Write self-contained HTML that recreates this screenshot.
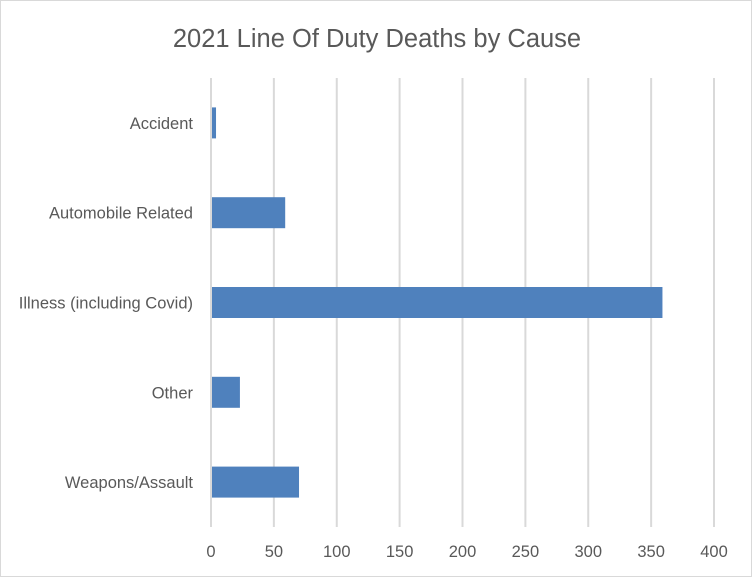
<!DOCTYPE html>
<html><head><meta charset="utf-8"><style>
body{margin:0;background:#fff;}
#wrap{width:752px;height:577px;position:relative;background:#fff;box-sizing:border-box;border:1px solid #d9d9d9;overflow:hidden;}
#chart{position:absolute;left:-1px;top:-1px;}
svg text{font-family:"Liberation Sans",Calibri,sans-serif;}
</style></head><body>
<div id="wrap">
<svg id="chart" width="752" height="577"></svg>
</div>
<script>
const categories=["Accident","Automobile Related","Illness (including Covid)","Other","Weapons/Assault"];
const values=[4,59,359,23,70];
const ticks=[0,50,100,150,200,250,300,350,400];
const NS="http://www.w3.org/2000/svg";
const svg=document.getElementById('chart');
const x0=211,x1=714,plotTop=78,plotBottom=527,maxV=400;
const xs=v=>x0+(x1-x0)*v/maxV;
const band=(plotBottom-plotTop)/categories.length;
const ys=i=>plotTop+band*i+band/2;
function mk(t,a){const e=document.createElementNS(NS,t);for(const k in a)e.setAttribute(k,a[k]);svg.appendChild(e);return e;}
const title=mk('text',{x:377,y:47,'text-anchor':'middle','font-size':25.5,fill:'#595959'});
title.textContent="2021 Line Of Duty Deaths by Cause";


ticks.forEach(t=>{
 const l=mk('line',{x1:xs(t),x2:xs(t),y1:plotTop,y2:plotBottom,stroke:'#d9d9d9','stroke-width':2});
 
 
 const tx=mk('text',{x:xs(t),y:557,'text-anchor':'middle','font-size':16.5,fill:'#595959'});
 tx.textContent=t;
 
 
});
categories.forEach((c,i)=>{
 const h=31;
 const r=mk('rect',{x:xs(0)+1,y:ys(i)-h/2,width:Math.max(0,xs(values[i])-xs(0)-1),height:h,fill:'#4f81bd'});
 
 
 const tx=mk('text',{x:193,y:ys(i)+6,'text-anchor':'end','font-size':16.5,fill:'#595959'});
 tx.textContent=c;
 
 
});
</script>
</body></html>
